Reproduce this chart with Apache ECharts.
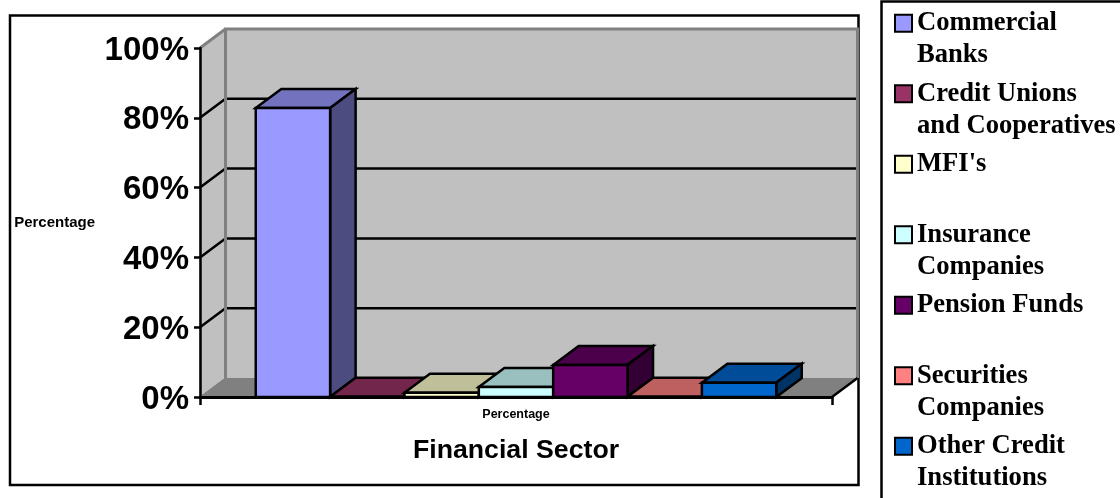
<!DOCTYPE html>
<html><head><meta charset="utf-8">
<style>html,body{margin:0;padding:0;background:#fff}#c{width:1120px;height:498px}</style>
<script src="https://cdn.jsdelivr.net/npm/echarts@6/dist/echarts.min.js"></script>
</head><body><div id="c"></div>
<script>
const sectors = ["Commercial\nBanks","Credit Unions\nand Cooperatives","MFI's\n ","Insurance\nCompanies","Pension Funds\n ","Securities\nCompanies","Other Credit\nInstitutions"];
const values = [82.8, 0.05, 1.2, 2.9, 9.2, 0.05, 4.1];
const frontColors = ['#9999ff','#993366','#ffffcc','#ccffff','#660066','#ff8080','#0066cc'];
const topColors = ['#7272bf','#72264c','#bfbf99','#99bfbf','#4c004c','#bf6060','#004c99'];
const sideColors = ['#4c4c80','#4c1933','#808066','#668080','#330033','#804040','#003366'];
const yTicks = [0,20,40,60,80,100];
const category = ['Percentage'];
const DX = 25.5, DY = -19;
const SANS = '"Liberation Sans", Arial, sans-serif', SERIF = '"Liberation Serif", "Times New Roman", serif';
const poly = (points, fill, stroke, lw) => ({type:'polygon', shape:{points}, style:{fill, stroke, lineWidth:lw, lineJoin:'miter'}});
const pline = (points, stroke, lw) => ({type:'polyline', shape:{points}, style:{fill:null, stroke, lineWidth:lw}});

function renderWalls(params, api){
  const cs = params.coordSys, x0 = cs.x, x1 = cs.x + cs.width;
  const yb = api.coord([0,0])[1], yt = api.coord([0,100])[1];
  const ch = [
    poly([[x0,yt],[x0+DX,yt+DY],[x0+DX,yb+DY],[x0,yb]], '#c0c0c0', '#808080', 1),
    poly([[x0+DX,yt+DY],[x1+DX,yt+DY],[x1+DX,yb+DY],[x0+DX,yb+DY]], '#c0c0c0', null, 0),
    poly([[x0,yb],[x0+DX,yb+DY],[x1+DX,yb+DY],[x1,yb]], '#808080', null, 0)
  ];
  yTicks.slice(1,-1).forEach(t => {
    const y = api.coord([0,t])[1];
    ch.push(pline([[x0,y],[x0+DX,y+DY],[x1+DX,y+DY]], '#000', 2.5));
  });
  ch.push(pline([[x0,yb],[x0+DX,yb+DY]], '#808080', 1));
  ch.push(pline([[x0+DX,yb+DY],[x0+DX,yt+DY],[x1+DX,yt+DY],[x1+DX,yb+DY]], '#808080', 3));
  ch.push(pline([[x0,yt],[x0+DX,yt+DY]], '#808080', 3));
  ch.push(pline([[x1,yb],[x1+DX,yb+DY]], '#000', 2.5));
  return {type:'group', children:ch};
}
function renderBar(idx){
  return function(params, api){
    const band = api.size([1,0])[0], w = band/(sectors.length+1.5);
    const left = api.coord([0,0])[0] - band/2 + w*(0.75+idx), right = left + w;
    const yb = api.coord([0,0])[1], yv = api.coord([0,api.value(1)])[1];
    const dx = 25.5, dy = -19, s = '#000';
    return {type:'group', children:[
      poly([[left,yv],[right,yv],[right+dx,yv+dy],[left+dx,yv+dy]], topColors[idx], s, 2.5),
      poly([[right,yb],[right,yv],[right+dx,yv+dy],[right+dx,yb+dy]], sideColors[idx], s, 2.5),
      poly([[left,yb],[right,yb],[right,yv],[left,yv]], frontColors[idx], s, 2.5)
    ]};
  };
}
const series = [{type:'custom', name:'walls', z:1, silent:true, clip:false, data:[[0,0]], renderItem:renderWalls}];
sectors.forEach((s,i)=>series.push({
  type:'custom', name:s, z:2, clip:false, itemStyle:{color:frontColors[i]},
  data:[[0, values[i]]], renderItem:renderBar(i)
}));

const chart = echarts.init(document.getElementById('c'), null, {renderer:'canvas'});
chart.setOption({
  animation:false,
  backgroundColor:'#fff',
  grid:{left:200, right:288, top:48, bottom:101, outerBoundsMode:'none'},
  xAxis:{type:'category', data:category, z:10,
    name:'Financial Sector', nameLocation:'middle', nameGap:40,
    nameTextStyle:{fontFamily:SANS, fontWeight:'bold', fontSize:26.7, color:'#000'},
    axisLine:{show:true, lineStyle:{color:'#000', width:3}},
    axisTick:{show:true, length:8, lineStyle:{color:'#000', width:2.5}},
    axisLabel:{fontFamily:SANS, fontWeight:'bold', fontSize:12.5, color:'#000', margin:11},
    splitLine:{show:false}
  },
  yAxis:{type:'value', min:0, max:100, interval:20, z:10,
    name:'Percentage', nameLocation:'middle', nameRotate:0, nameGap:105,
    nameTextStyle:{fontFamily:SANS, fontWeight:'bold', fontSize:15, color:'#000'},
    axisLine:{show:true, lineStyle:{color:'#000', width:2.5}},
    axisTick:{show:true, length:6, lineStyle:{color:'#000', width:2.5}},
    axisLabel:{formatter:v=>'{a|'+v+'%}', margin:11,
      rich:{a:{fontFamily:SANS, fontWeight:'bold', fontSize:33, color:'#000', padding:[5,0,0,0]}}},
    splitLine:{show:false}
  },
  legend:{
    orient:'vertical', left:889, top:-29.8, height:1000, icon:'rect', itemWidth:17, itemHeight:17, itemGap:-25.5,
    data:sectors, selectedMode:false,
    itemStyle:{borderColor:'#000', borderWidth:2},
    formatter:n=>'\n'+n,
    textStyle:{fontFamily:SERIF, fontWeight:'bold', fontSize:26.6, lineHeight:32, color:'#000'}
  },
  graphic:[
    {type:'rect', z:0, silent:true, shape:{x:10,y:15.5,width:848.5,height:469.5}, style:{fill:null, stroke:'#000', lineWidth:2.5}},
    {type:'rect', z:0, silent:true, shape:{x:881.5,y:1.5,width:260,height:520}, style:{fill:null, stroke:'#000', lineWidth:2.5}}
  ],
  series
});
</script></body></html>
